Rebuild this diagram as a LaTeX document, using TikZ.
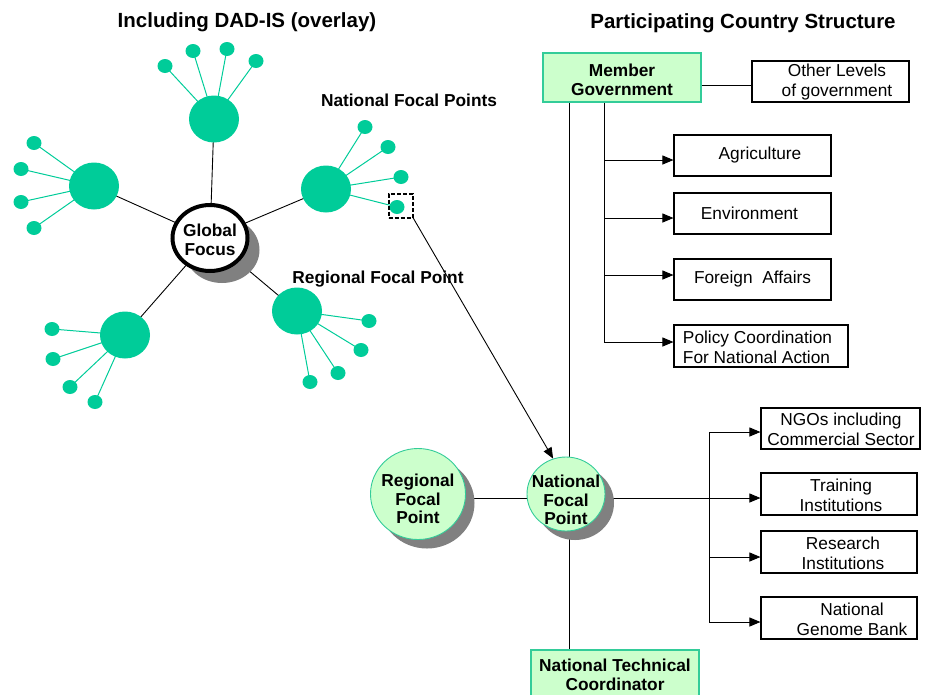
\documentclass[tikz,border=0pt]{standalone}
\usepackage{fontspec}
\setmainfont{Liberation Sans}
\usetikzlibrary{shapes.geometric,arrows.meta,shadows,backgrounds}
\definecolor{dot}{RGB}{0,204,153}
\definecolor{lgreen}{RGB}{204,255,204}
\definecolor{bgreen}{RGB}{51,204,153}
\definecolor{shade}{RGB}{128,128,128}
\begin{document}
\begin{tikzpicture}[x=1pt,y=-1pt,
 big/.style={ellipse,fill=dot,minimum width=50pt,minimum height=47pt,inner sep=0pt},
 small/.style={ellipse,fill=dot,minimum width=15pt,minimum height=14pt,inner sep=0pt},
 spoke/.style={draw=dot,line width=1pt},
 link/.style={draw=black,line width=0.9pt},
 arr/.style={link,-{Triangle[length=11pt,width=9pt]}},
 txt/.style={font=\fontsize{17.3}{19.8}\selectfont,align=center,inner sep=0pt},
 btxt/.style={font=\bfseries\fontsize{17.3}{19.3}\selectfont,align=center,inner sep=0pt},
 ttl/.style={font=\bfseries\fontsize{20.5}{23}\selectfont,inner sep=0pt},
 wbox/.style={draw=black,line width=1.1pt,fill=white,inner sep=0pt},
 gbox/.style={draw=bgreen,line width=1.6pt,fill=lgreen,inner sep=0pt},
 fp/.style={ellipse,draw=bgreen,line width=0.9pt,fill=lgreen,inner sep=0pt,drop shadow={shadow xshift=9pt,shadow yshift=-9pt,fill=shade,opacity=1}},
]
\useasboundingbox (0,0) rectangle (925,694);
\clip (0,0) rectangle (925,694);

% titles
\node[ttl] (title1) at (247,22) {Including DAD-IS (overlay)};
\node[ttl] (title2) at (743,23) {Participating Country Structure};

% global focus
\node[ellipse,draw=black,line width=4pt,fill=white,minimum width=75pt,minimum height=66pt,inner sep=0pt,
  drop shadow={shadow xshift=12pt,shadow yshift=-12pt,fill=shade,opacity=1}] (gf) at (210,238) {};
\node[btxt] (gft) at (210,240) {Global\\Focus};

% big circles
\node[big] (bt) at (214,119) {};
\node[big] (bl) at (94,186) {};
\node[big] (br) at (326,189) {};
\node[big] (bbl) at (125,335) {};
\node[big] (bbr) at (297,311) {};

% small dots
\node[small] (t1) at (165,66) {};
\node[small] (t2) at (193,51) {};
\node[small] (t3) at (227,49) {};
\node[small] (t4) at (256,61) {};
\node[small] (l1) at (34,143) {};
\node[small] (l2) at (21,169) {};
\node[small] (l3) at (21,202) {};
\node[small] (l4) at (34,228) {};
\node[small] (r1) at (365,127) {};
\node[small] (r2) at (388,147) {};
\node[small] (r3) at (401,177) {};
\node[small] (r4) at (397,207) {};
\node[small] (m1) at (52,329) {};
\node[small] (m2) at (53,359) {};
\node[small] (m3) at (70,387) {};
\node[small] (m4) at (95,402) {};
\node[small] (n1) at (369,321) {};
\node[small] (n2) at (361,350) {};
\node[small] (n3) at (338,373) {};
\node[small] (n4) at (310,382) {};

% labels
\node[btxt] (nfpl) at (409,100) {National Focal Points};
\node[btxt] (rfpl) at (378,279) {Regional Focal Point};

% dashed selection box
\node[draw=black,dash pattern=on 4pt off 2pt,line width=2pt,minimum size=24pt,inner sep=0pt] (db) at (400.5,205.5) {};

% right side boxes
\node[gbox,minimum width=158pt,minimum height=49pt] (mg) at (622,77.5) {};
\node[btxt] (mgt) at (622,80) {Member\\Government};
\node[wbox,minimum width=157pt,minimum height=41pt] (ol) at (830.5,81.5) {};
\node[txt] (olt) at (837,82) {Other Levels\\of government};

\node[wbox,minimum width=157pt,minimum height=41pt] (ag) at (752.5,155.5) {};
\node[txt] (agt) at (760,155.5) {Agriculture};
\node[wbox,minimum width=157pt,minimum height=41pt] (env) at (752.5,213.5) {};
\node[txt] (envt) at (749.5,213.5) {Environment};
\node[wbox,minimum width=157pt,minimum height=41pt] (fa) at (752.5,279.5) {};
\node[txt] (fat) at (752.5,279.5) {Foreign\ \ Affairs};
\node[wbox,minimum width=174pt,minimum height=42pt] (pol) at (761,346) {};
\node[txt,align=left] (polt) at (757.5,347) {Policy Coordination\\For National Action};

\node[wbox,minimum width=159pt,minimum height=41pt] (ngo) at (840.5,428.5) {};
\node[txt] (ngot) at (841,429) {NGOs including\\Commercial Sector};
\node[wbox,minimum width=156pt,minimum height=42pt] (tr) at (839,494) {};
\node[txt] (trt) at (841,495) {Training\\Institutions};
\node[wbox,minimum width=156pt,minimum height=42pt] (rs) at (839,552) {};
\node[txt] (rst) at (843,553) {Research\\Institutions};
\node[wbox,minimum width=156pt,minimum height=42pt] (gb) at (839,618) {};
\node[txt] (gbt) at (852,619) {National\\Genome Bank};

\node[gbox,minimum width=168pt,minimum height=52pt] (ntc) at (615,676) {};
\node[btxt] (ntct) at (615,675) {National Technical\\Coordinator};

% focal point circles
\node[fp,minimum width=95pt,minimum height=91pt] (rfp) at (418,494) {};
\node[btxt,font=\bfseries\fontsize{17.3}{18.3}\selectfont] (rfpt) at (418,499) {Regional\\Focal\\Point};
\node[fp,minimum width=78pt,minimum height=74pt] (nfp) at (566,494) {};
\node[btxt,font=\bfseries\fontsize{17.3}{18.3}\selectfont] (nfpt) at (566,500) {National\\Focal\\Point};

% coordinates
\coordinate (vx) at (569,0);
\coordinate (o1) at (701,85);
\coordinate (a1) at (604,160);
\coordinate (a2) at (604,218);
\coordinate (a3) at (604,275);
\coordinate (a4) at (604,342);
\coordinate (c1) at (709,432);
\coordinate (c2) at (709,498);
\coordinate (c3) at (709,557);
\coordinate (c4) at (709,622);

\begin{pgfonlayer}{background}
  \foreach \b in {bt,bl,br,bbl,bbr} \draw[link] (gf.center) -- (\b.center);
  \foreach \s in {t1,t2,t3,t4} \draw[spoke] (bt.center) -- (\s.center);
  \foreach \s in {l1,l2,l3,l4} \draw[spoke] (bl.center) -- (\s.center);
  \foreach \s in {r1,r2,r3,r4} \draw[spoke] (br.center) -- (\s.center);
  \foreach \s in {m1,m2,m3,m4} \draw[spoke] (bbl.center) -- (\s.center);
  \foreach \s in {n1,n2,n3,n4} \draw[spoke] (bbr.center) -- (\s.center);
  \draw[link] (mg.south -| vx) -- (ntc.north -| vx);
  \draw[link] (rfp.center |- c2) -- (nfp.center |- c2);
  \draw[arr] (nfp.center |- c2) -- (c2 -| tr.west);
\end{pgfonlayer}

\draw[link] (o1 -| mg.east) -- (o1 -| ol.west);
\draw[link] (mg.south -| a1) -- (a4);
\draw[arr] (a1) -- (a1 -| ag.west);
\draw[arr] (a2) -- (a2 -| env.west);
\draw[arr] (a3) -- (a3 -| fa.west);
\draw[arr] (a4) -- (a4 -| pol.west);
\draw[link] (c1) -- (c4);
\draw[arr] (c1) -- (c1 -| ngo.west);
\draw[arr] (c3) -- (c3 -| rs.west);
\draw[arr] (c4) -- (c4 -| gb.west);

\draw[arr] (db.south east) -- (nfp.110);
\end{tikzpicture}
\end{document}
